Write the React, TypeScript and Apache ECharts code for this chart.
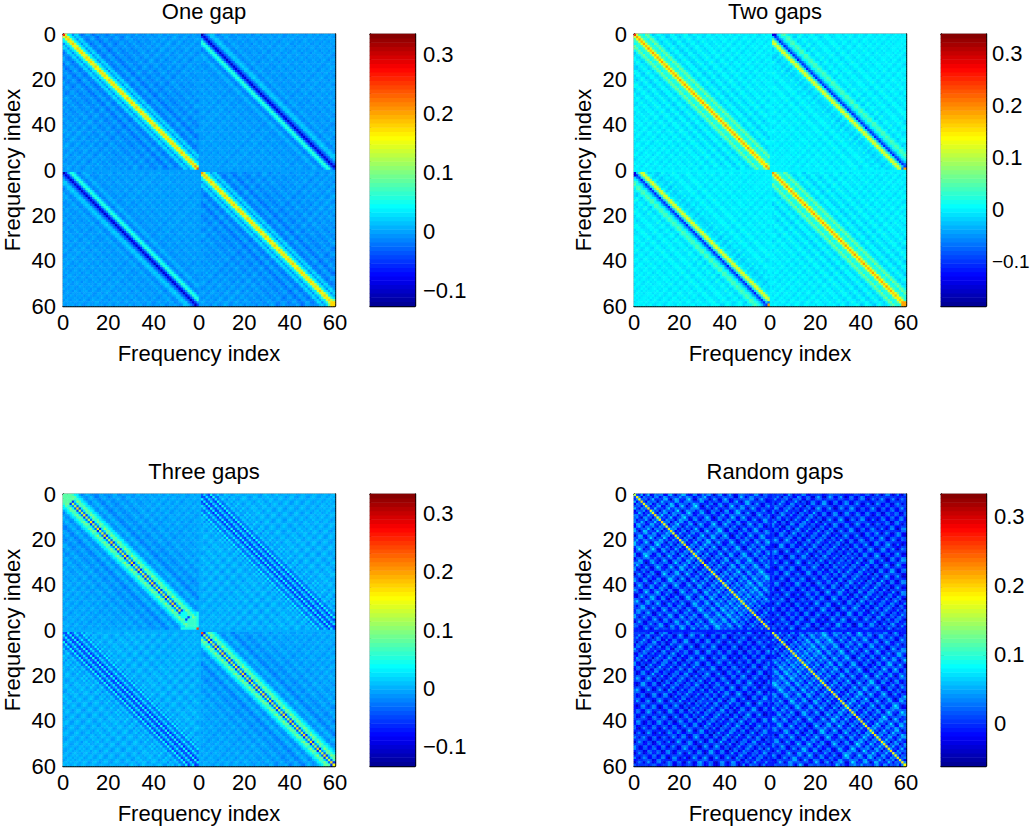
import React, { useEffect, useRef } from "react";
import * as echarts from "echarts";

// All matrix values below are estimates, in thousandths.
const axisTickLabels = ["0", "20", "40", "0", "20", "40", "60"];
const panelTitles = ["One gap", "Two gaps", "Three gaps", "Random gaps"];
const axisName = "Frequency index";

const barRanges = [
  [-0.127, 0.334],
  [-0.185, 0.338],
  [-0.134, 0.334],
  [-0.061, 0.333],
];
const barTicks = [
  [-0.1, 0, 0.1, 0.2, 0.3],
  [-0.1, 0, 0.1, 0.2, 0.3],
  [-0.1, 0, 0.1, 0.2, 0.3],
  [0, 0.1, 0.2, 0.3],
];

// ---------- One gap
const oneDiagonal = [245,190,176,172,178,170,175,180,172,170,176,178,171,174,177,170,175,180,172,168,176,178,171,175,170,177,173,169,179,172,175,171,178,170,174,176,169,177,172,175,179,171,170,176,173,178,169,175,172,177,170,173,179,171,175,177,172,182,200,240];
const oneStripes = [175,135,48,28,-5,25,20,-8,-18,-15,-3,2,-5,-13,-11,-4,0,-3,-7,-9,-5,-2,0,-4,-7,-6,-2,1,-1,-5,-6,-3,0,-2,-5,-4,-1,1,-2,-4,-3,-1,1,-1,-3,-4,-2,0,1,-2,-3,-2,0,-1,-3,-2,0,1,-1,-2];
const oneAnti = [3,-2,1,4,-3,0,5,-1,-4,2,6,1,-3,-2,4,3,-5,0,2,-3,1,5,-2,-4,3,2,-1,-6,0,4,1,-3,5,-2,-1,3,-4,2,0,-3];
const oneAlong = [6,0,-6,0];
const oneOffNear = [-6,-6,4,8,0,-12,-12,15,50,60,5,-50,-95,-40,-15,12,20,12,-2,-10,-8,2,4,-2,-4];
const oneOffStripes = [0,0,0,0,0,0,0,0,0,0,0,0,0,-4,-2,1,-1,-3,-4,0,2,-1,-4,-2,1,2,-2,-3,0,2,-1,-3,-1,1,2,-2,-3,0,1,-1,-2,-1,1,2,-1,-3,0,1,-1,-2,0,1,-1,-2,0,1,0,-1,0,1];
const oneOffAnti = [2,-1,3,-3,0,4,-2,-4,1,3,-2,2,4,-3,-1,2,-4,1,3,0,-2,4,-3,-1,2,1,-4,3,0,-2];
const oneOverrides = [
  [0,0,61,61,-115],
  [61,61,61,61,205],
  [118,119,118,119,175],
  [119,119,117,118,95],
];

// ---------- Two gaps
const twoDiagonal = [235,195,180,185,176,182,188,178,181,184,175,187,182,176,186,181,175,184,183,179,188,176,181,186,177,183,180,184,175,188,181,178,185,182,176,183,187,179,176,183,186,180,175,184,181,177,188,182,176,180,185,179,175,172,168,160,155,165,185,190];
const twoStripes = [180,125,42,22,15,62,44,8,-12,-10,3,9,1,-10,-11,-3,5,3,-7,-9,-3,3,6,0,-6,-7,-1,4,2,-4,-6,-2,3,1,-4,-5,0,3,1,-3,-4,-1,2,0,-3,-4,0,2,1,-2,-3,-1,2,0,-2,-3,0,1,0,-1];
const twoAnti = [4,-3,6,1,-5,3,7,-2,-6,2,5,-1,-4,6,2,-7,0,4,-3,5,1,-6,3,7,-4,-1,5,-2,-5,4,2,-6,1,6,-3,0,5,-4,2,-2];
const twoAlong = [8,-6,-8,6];
const twoOffNear = [2,-5,-10,-15,-8,-6,-3,15,100,125,55,-15,-105,-60,-15,12,28,45,30,8,-8,-10,0,7,3];
const twoOffStripes = [0,0,0,0,0,0,0,0,0,0,0,0,0,-3,-6,-2,3,5,1,-4,-7,-2,4,6,1,-4,-5,0,3,1,-3,-5,0,4,2,-3,-4,1,3,0,-3,-2,2,1,-2,-3,0,2,0,-2,-1,1,0,-1,0,1,-1,0,1,0];
const twoOffAnti = [3,-2,5,-4,1,6,-3,-5,2,4,-1,-6,3,5,-2,1,-4,6,0,-3,4,2,-5,-1,5,-3,3,-4,1,2];
const twoOverrides = [
  [0,0,61,62,-140],
  [61,61,61,61,195],
  [59,59,119,119,190],
  [59,59,118,118,-60],
  [118,119,118,119,185],
];

// ---------- Three gaps
const threeDiagonal = [125,140,135,133,137,130,135,140,133,131,135,138,132,134,137,131,135,140,133,129,136,138,132,135,131,137,134,130,139,133,135,132,138,131,134,136,130,137,133,135,139,132,131,136,134,138,130,135,133,137,131,134,139,132,135,137,135,140,160,220];
const threeStripes = [135,-36,46,85,72,36,26,0,-14,-11,2,3,-5,-13,-15,-7,-1,-3,-8,-11,-8,-3,1,-2,-7,-9,-4,0,1,-4,-7,-5,-1,0,-3,-6,-3,0,1,-3,-5,-2,0,-1,-4,-3,0,1,-2,-4,-2,0,1,-2,-3,-1,1,0,-2,-1];
const threeAnti = [3,-2,5,1,-4,2,6,-1,-5,3,4,-2,-3,5,1,-6,0,3,-2,4,2,-5,1,6,-3,-1,4,-3,-5,2,3,-4,1,5,-3,0,4,-4,1,-2];
const threeAlong = [32,-22,-12,14,-10,0];
const threeOffNear = [0,0,0,-10,20,-20,-35,30,-30,-50,30,-35,-55,30,-30,-45,30,-20,-30,20,-10,-2,0,0,0];
const threeOffStripes = [0,0,0,0,0,0,0,0,0,0,0,0,0,-2,-4,-1,3,4,1,-3,-4,0,4,3,-1,-5,-3,2,4,1,-3,-4,0,3,2,-2,-4,-1,3,2,-2,-3,0,2,1,-2,-3,0,2,1,-1,-2,0,1,0,-1,0,1,0,-1];
const threeOffAnti = [4,-3,2,6,-4,-1,5,3,-5,-2,4,6,-3,-6,1,5,2,-4,-5,3,6,0,-4,-3,4,2,-6,1,5,-2];
const threeOverrides = [
  [0,3,0,3,78],
  [0,0,0,0,110],
  [55,58,55,58,62],
  [52,54,52,54,42],
  [59,59,52,58,48],
  [59,59,59,59,245],
  [58,58,58,58,90],
  [61,61,61,61,240],
];

// ---------- Random gaps
const randomDiagonal = [175,190,185,195,180,188,192,178,186,194,182,190,197,184,176,188,193,181,187,195,183,179,191,186,194,180,188,192,176,185,196,182,189,178,193,187,181,195,184,190,177,188,192,183,186,194,179,190,185,193,181,187,196,182,178,190,186,192,184,188];
const randomStripes = [190,12,-8,20,-10,6,22,-14,2,18,-6,12,28,-2,-18,10,24,4,-12,8,-4,16,30,6,-10,-20,4,18,-8,2,14,-14,-4,20,8,-16,-2,12,26,0,-12,6,16,-6,-18,4,22,10,-8,2,14,-4,-14,6,18,-2,-10,8,0,-6];
const randomAnti = [10,-6,4,14,-8,2,16,-4,-10,6,18,8,-6,-12,4,20,12,-4,-14,2,14,24,6,-8,-2,10,22,4,-12,-6,8,18,26,10,-6,-14,0,12,6,-8,-12,4,16,8,-4,-16,-6,10,20,2,-10,-2,12,24,14,-2,-12,6,16,4,-8,-16,-4,8,14,0,-10,-4,10,18,6,-8,-14,2,12,18,4,-6,2,16,18,4,-8,0,12,16,6,-4,6,16,20,10,2,8,18,20,10,0,8,16,14,4,-4,4,12,4,-8,-14,-4,8,12,-2,-12,-6,4,10,0,-8,2];
const randomAlong = [0];
const randomOffNear = [-6,12,-14,-8,16,2,-14,12,14,-10,-2,14,-4,8,4,-12,14,-2,-10,14,2,-14,16,-6,-16];
const randomOffStripes = [-4,8,-12,4,14,-10,-2,12,-14,2,16,-6,-16,6,18,2,-12,-8,10,20,4,-14,-18,0,14,8,-10,-4,12,18,-2,-16,-6,10,2,-14,-8,6,16,-4,-20,-6,12,4,-10,2,14,-2,-16,-8,8,16,0,-12,-2,10,-6,-14,4,8];
const randomOffAnti = [6,-10,2,14,-6,-14,4,18,8,-8,-16,0,12,20,2,-12,-4,10,-10,-18,2,16,6,-8,-14,8,22,10,-6,-12,0,14,-4,-18,-8,6,16,2,-14,-6,12,18,4,-10,-16,2,10,-2,-12,6,18,8,-8,-14,-2,12,-6,-16,4,10];
const randomOverrides = [[0,0,0,0,150]];

const backgrounds = [
  { main: -2, off: -2, gap: -3 },
  { main: -2, off: -2, gap: 0 },
  { main: -2, off: 0, gap: -1 },
  { main: 3, off: 3, gap: -5 },
];
// how strongly the faint background stripes show in each panel
const textureGain = [1.6, 1.4, 1.4, 1.4];

const panelData = [
  { diagonal: oneDiagonal, stripes: oneStripes, anti: oneAnti, along: oneAlong, offNear: oneOffNear, offStripes: oneOffStripes, offAnti: oneOffAnti, overrides: oneOverrides, offAlong: [0] },
  { diagonal: twoDiagonal, stripes: twoStripes, anti: twoAnti, along: twoAlong, offNear: twoOffNear, offStripes: twoOffStripes, offAnti: twoOffAnti, overrides: twoOverrides, offAlong: [8, 0, -8, 0] },
  { diagonal: threeDiagonal, stripes: threeStripes, anti: threeAnti, along: threeAlong, offNear: threeOffNear, offStripes: threeOffStripes, offAnti: threeOffAnti, overrides: threeOverrides, offAlong: [10, -8, 6, -10, 8, -6] },
  { diagonal: randomDiagonal, stripes: randomStripes, anti: randomAnti, along: randomAlong, offNear: randomOffNear, offStripes: randomOffStripes, offAnti: randomOffAnti, overrides: randomOverrides, offAlong: [0] },
];

const categories = Array.from({ length: 120 }, (_, i) => String(i));
const FONT = "Liberation Sans";
const FS = 22;

function cellValue(index: number, r: number, c: number) {
  const p = panelData[index];
  const bg = backgrounds[index];
  const gain = textureGain[index];
  for (const [r0, r1, c0, c1, v] of p.overrides) {
    if ((r >= r0 && r <= r1 && c >= c0 && c <= c1) || (c >= r0 && c <= r1 && r >= c0 && r <= c1)) return v;
  }
  if (r === 60 || c === 60) return bg.gap;
  const isMain = r < 60 === c < 60;
  const br = r < 60 ? r : r - 61;
  const bc = c < 60 ? c : c - 61;
  const s = br + bc;
  const far = index === 3 ? 0 : 12;
  if (isMain) {
    const d = Math.abs(bc - br);
    const along = d <= 3 ? p.along[s % p.along.length] : 0;
    if (d === 0) return p.diagonal[br] + along;
    const antiIndex = r < 60 ? s : 118 - s;
    const stripe = d > far ? p.stripes[d] * gain : p.stripes[d];
    return bg.main + stripe + p.anti[antiIndex % p.anti.length] * gain + along;
  }
  const d = r < 60 ? bc - br : br - bc;
  const ad = Math.abs(d);
  const anti = p.offAnti[s % p.offAnti.length] * gain;
  if (ad <= 12) return bg.off + p.offNear[d + 12] * (index === 3 ? gain : 1) + anti + p.offAlong[s % p.offAlong.length];
  return bg.off + p.offStripes[ad] * gain + anti;
}

function matrix(index: number) {
  const out: number[][] = [];
  for (let r = 0; r < 120; r++) for (let c = 0; c < 120; c++) out.push([c, r, cellValue(index, r, c) / 1000]);
  return out;
}

function jet(): string[] {
  const list: string[] = [];
  for (let i = 0; i < 64; i++) {
    const t = (i + 1) / 64;
    const ch = (x: number) => Math.round(255 * Math.max(0, Math.min(1, x)));
    const R = Math.min(4 * t - 1.5, -4 * t + 4.5);
    const G = Math.min(4 * t - 0.5, -4 * t + 3.5);
    const B = Math.min(4 * t + 0.5, -4 * t + 2.5);
    list.push(`rgb(${ch(R)},${ch(G)},${ch(B)})`);
  }
  return list;
}

function buildOption() {
  const colors = jet();
  const grid: any[] = [];
  const xAxis: any[] = [];
  const yAxis: any[] = [];
  const series: any[] = [];
  const visualMap: any[] = [];
  const title: any[] = [];
  const lefts = [63, 634, 63, 634];
  const tops = [34, 34, 494, 494];
  const frameLine = { show: true, onZero: false, lineStyle: { color: "#000", width: 1.4 } };
  const hiddenCat = (gridIndex: number, data: string[], inverse: boolean) => ({ type: "category", gridIndex, data, show: false, inverse });
  const label = { color: "#000", fontFamily: FONT, fontSize: FS };

  panelTitles.forEach((text, i) => {
    const left = lefts[i];
    const top = tops[i];
    title.push({ text, left: left + 136, top: top - 39, padding: 5, textAlign: "center", textStyle: { color: "#000", fontFamily: FONT, fontSize: FS, fontWeight: "normal" } });

    // matrix panel
    const g = grid.length;
    grid.push({ left, top, width: 272, height: 272, outerBoundsMode: "none" });
    const catX = xAxis.length;
    const catY = yAxis.length;
    xAxis.push(hiddenCat(g, categories, false));
    yAxis.push(hiddenCat(g, categories, true));
    const valueAxis = { type: "value", gridIndex: g, min: 0, max: 120, interval: 20, splitLine: { show: false }, axisLine: frameLine, axisTick: { show: true, inside: true, length: 3, lineStyle: { color: "#000", width: 1 } } };
    xAxis.push({
      ...valueAxis, position: "bottom", name: axisName, nameLocation: "middle", nameGap: 36,
      nameTextStyle: label, axisLabel: { ...label, margin: 5, alignMinLabel: "center", alignMaxLabel: "center", formatter: (v: number) => axisTickLabels[v / 20] },
    });
    xAxis.push({ ...valueAxis, position: "top", axisLabel: { show: false } });
    yAxis.push({
      ...valueAxis, position: "left", inverse: true, name: axisName, nameLocation: "middle", nameGap: 40, nameRotate: 90,
      nameTextStyle: label, axisLabel: { ...label, margin: 7, formatter: (v: number) => axisTickLabels[v / 20] },
    });
    yAxis.push({ ...valueAxis, position: "right", inverse: true, axisLabel: { show: false } });
    series.push({ type: "heatmap", xAxisIndex: catX, yAxisIndex: catY, data: matrix(i), silent: true, progressive: 0, emphasis: { disabled: true }, itemStyle: { borderWidth: 0 } });
    visualMap.push({ type: "continuous", show: false, seriesIndex: series.length - 1, dimension: 2, min: barRanges[i][0], max: barRanges[i][1], inRange: { color: colors } });

    // colour bar
    const [lo, hi] = barRanges[i];
    const ticks = barTicks[i];
    const bg = grid.length;
    grid.push({ left: left + 307, top, width: 45, height: 272, outerBoundsMode: "none" });
    const barX = xAxis.length;
    const barY = yAxis.length;
    const rows = colors.map((_, k) => String(k));
    xAxis.push(hiddenCat(bg, ["0"], false));
    yAxis.push(hiddenCat(bg, rows, false));
    const barFrameX = { type: "value", gridIndex: bg, min: 0, max: 1, splitLine: { show: false }, axisLine: frameLine, axisTick: { show: false }, axisLabel: { show: false } };
    xAxis.push({ ...barFrameX, position: "bottom" });
    xAxis.push({ ...barFrameX, position: "top" });
    const barValue = { type: "value", gridIndex: bg, min: lo, max: hi, splitLine: { show: false }, axisLine: frameLine, axisTick: { show: true, inside: true, length: 3, customValues: ticks, lineStyle: { color: "#000", width: 1 } } };
    yAxis.push({ ...barValue, position: "left", axisLabel: { show: false } });
    const tight = i === 1; // the lowest label of this bar runs up to the page edge
    yAxis.push({
      ...barValue, position: "right",
      axisLabel: {
        ...label, margin: tight ? 6 : 8, customValues: ticks,
        rich: { tight: { color: "#000", fontFamily: FONT, fontSize: 19 } },
        formatter: (v: number) => {
          if (v >= 0) return String(v);
          const s = "\u2212" + String(-v);
          return tight ? `{tight|${s}}` : s;
        },
      },
    });
    series.push({
      type: "heatmap", xAxisIndex: barX, yAxisIndex: barY, silent: true, progressive: 0, emphasis: { disabled: true },
      data: colors.map((_, k) => [0, k, lo + ((k + 0.5) * (hi - lo)) / 64]),
    });
    visualMap.push({ type: "continuous", show: false, seriesIndex: series.length - 1, dimension: 2, min: lo, max: hi, inRange: { color: colors } });
  });

  return { animation: false, backgroundColor: "#fff", title, grid, xAxis, yAxis, series, visualMap };
}

export default function App() {
  const ref = useRef<HTMLDivElement>(null);
  useEffect(() => {
    const chart = echarts.init(ref.current!, undefined, { renderer: "svg" });
    chart.setOption(buildOption());
    return () => chart.dispose();
  }, []);
  return (
    <div style={{ position: "absolute", left: 0, top: 0, width: 1031, height: 826, overflow: "hidden" }}>
      <div ref={ref} style={{ width: 1031, height: 826 }} />
    </div>
  );
}
